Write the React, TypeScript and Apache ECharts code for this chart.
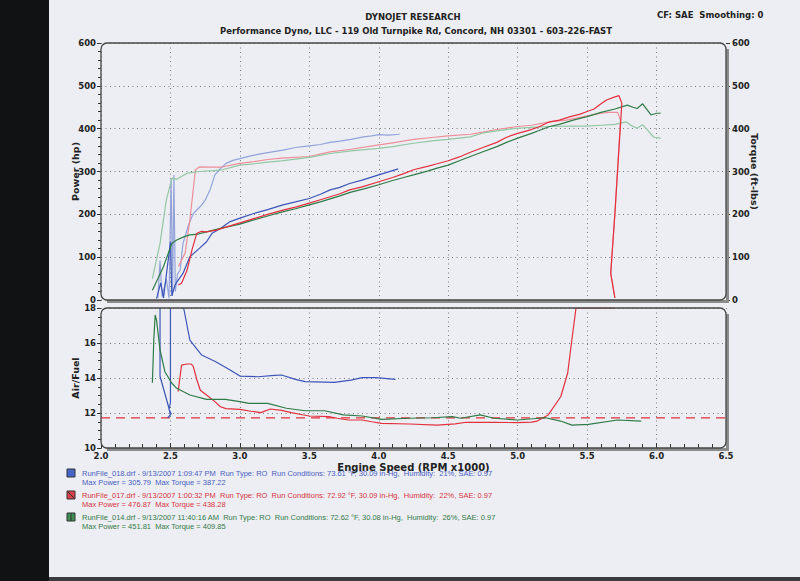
import React, { useEffect, useRef } from "react";
import * as echarts from "echarts";

// ---------- data (rpm x1000, value) ----------
const rpmTicks = [2.0, 2.5, 3.0, 3.5, 4.0, 4.5, 5.0, 5.5, 6.0, 6.5];

// RunFile_018 (blue)
const run018Power: [number, number][] = [
  [2.4, 3], [2.43, 40], [2.45, 5], [2.5, 135], [2.51, 10], [2.533, 35], [2.557, 47], [2.59, 62],
  [2.64, 101], [2.71, 121], [2.76, 136], [2.8, 156], [2.86, 167], [2.93, 183], [3.0, 191],
  [3.1, 202], [3.2, 211], [3.31, 222], [3.4, 229], [3.5, 237], [3.58, 247], [3.65, 257],
  [3.72, 263], [3.79, 272], [3.88, 280], [4.0, 292], [4.07, 299], [4.14, 306],
];
const run018Torque: [number, number][] = [
  [2.41, 5], [2.425, 92], [2.44, 8], [2.47, 50], [2.49, 4], [2.505, 285], [2.515, 10],
  [2.525, 292], [2.535, 20], [2.55, 60], [2.57, 70], [2.59, 132], [2.63, 175], [2.665, 202],
  [2.72, 220], [2.75, 233], [2.785, 257], [2.82, 292], [2.86, 307], [2.9, 319], [2.95, 326],
  [3.0, 330], [3.07, 336], [3.15, 341], [3.2, 344], [3.31, 350], [3.4, 356], [3.5, 360],
  [3.58, 363], [3.65, 368], [3.72, 371], [3.8, 375], [3.89, 381], [3.95, 383], [4.0, 386],
  [4.07, 385], [4.15, 387],
];
// RunFile_017 (red)
const run017Power: [number, number][] = [
  [2.557, 35], [2.58, 39], [2.62, 70], [2.655, 117], [2.69, 156], [2.72, 160], [2.76, 159],
  [2.83, 163], [2.9, 170], [3.0, 180], [3.1, 190], [3.2, 200], [3.31, 210], [3.4, 217],
  [3.5, 226], [3.58, 234], [3.65, 241], [3.72, 248], [3.79, 257], [3.88, 264], [4.0, 276],
  [4.1, 286], [4.18, 295], [4.25, 304], [4.35, 312], [4.42, 318], [4.5, 325], [4.58, 334],
  [4.66, 345], [4.75, 356], [4.85, 368], [4.92, 380], [5.0, 389], [5.08, 396], [5.15, 404],
  [5.23, 416], [5.3, 420], [5.38, 428], [5.45, 434], [5.5, 440], [5.55, 446], [5.6, 458],
  [5.64, 467], [5.69, 473], [5.73, 477], [5.75, 459], [5.7, 202], [5.67, 62], [5.7, 5],
];
const run017Torque: [number, number][] = [
  [2.557, 78], [2.605, 109], [2.64, 187], [2.68, 304], [2.71, 311], [2.78, 310], [2.86, 310],
  [3.0, 319], [3.1, 323], [3.2, 328], [3.3, 331], [3.5, 335], [3.65, 346], [3.8, 352],
  [4.0, 362], [4.1, 367], [4.25, 375], [4.4, 380], [4.5, 383], [4.66, 387], [4.75, 392],
  [4.85, 398], [5.0, 405], [5.1, 408], [5.23, 416], [5.35, 420], [5.5, 430], [5.6, 436],
  [5.66, 438], [5.72, 438], [5.74, 420], [5.7, 200], [5.67, 62], [5.7, 5],
];
// RunFile_014 (green)
const run014Power: [number, number][] = [
  [2.37, 23], [2.41, 50], [2.45, 78], [2.51, 132], [2.545, 140], [2.6, 148], [2.64, 152],
  [2.7, 154], [2.76, 159], [2.83, 165], [2.9, 170], [3.0, 177], [3.1, 187], [3.2, 196],
  [3.3, 205], [3.4, 213], [3.5, 222], [3.58, 229], [3.65, 236], [3.72, 243], [3.8, 252],
  [3.9, 260], [4.0, 269], [4.1, 279], [4.18, 286], [4.25, 292], [4.35, 301], [4.42, 308],
  [4.5, 315], [4.58, 325], [4.66, 335], [4.75, 346], [4.85, 358], [4.92, 368], [5.0, 378],
  [5.1, 389], [5.15, 395], [5.23, 405], [5.3, 410], [5.4, 420], [5.5, 428], [5.6, 438],
  [5.7, 446], [5.79, 455], [5.83, 450], [5.86, 447], [5.9, 458], [5.93, 445], [5.96, 432],
  [6.0, 436], [6.03, 436],
];
const run014Torque: [number, number][] = [
  [2.37, 50], [2.425, 132], [2.47, 233], [2.51, 284], [2.545, 282], [2.62, 296], [2.71, 300],
  [2.86, 303], [3.0, 315], [3.1, 318], [3.2, 322], [3.3, 325], [3.5, 333], [3.65, 342],
  [3.8, 348], [4.0, 354], [4.1, 358], [4.25, 366], [4.4, 372], [4.5, 375], [4.66, 381],
  [4.75, 390], [4.85, 395], [5.0, 401], [5.1, 403], [5.23, 405], [5.35, 406], [5.5, 406],
  [5.6, 408], [5.7, 410], [5.78, 416], [5.82, 407], [5.86, 401], [5.9, 409], [5.94, 395],
  [5.98, 380], [6.03, 378],
];

// Air / Fuel
const run018AfStart: [number, number][] = [
  [2.425, 18], [2.425, 14.1], [2.485, 12.4], [2.5, 11.9], [2.48, 11.72], [2.505, 11.95],
  [2.49, 12.2], [2.5, 12.6], [2.5, 18],
];
const run018Af: [number, number][] = [
  [2.595, 18], [2.64, 16.17], [2.725, 15.31], [2.826, 14.93], [2.93, 14.46], [3.0, 14.11],
  [3.13, 14.07], [3.25, 14.15], [3.3, 14.17], [3.4, 13.92], [3.47, 13.79], [3.68, 13.75],
  [3.8, 13.88], [3.88, 14.02], [3.98, 14.02], [4.12, 13.92],
];
const run017Af: [number, number][] = [
  [2.555, 13.22], [2.58, 14.74], [2.62, 14.8], [2.65, 14.8], [2.665, 14.65], [2.69, 13.9],
  [2.715, 13.3], [2.76, 13.03], [2.82, 12.65], [2.86, 12.36], [2.9, 12.25], [3.0, 12.21],
  [3.08, 12.1], [3.15, 12.02], [3.22, 12.23], [3.3, 12.15], [3.37, 12.02], [3.45, 11.9],
  [3.5, 11.83], [3.64, 11.79], [3.7, 11.7], [3.78, 11.6], [3.88, 11.6], [3.95, 11.5],
  [4.02, 11.41], [4.22, 11.37], [4.42, 11.31], [4.55, 11.38], [4.63, 11.47], [4.83, 11.47],
  [5.0, 11.45], [5.1, 11.48], [5.14, 11.54], [5.22, 11.89], [5.31, 12.93], [5.36, 14.27],
  [5.39, 16.17], [5.42, 18], [5.7, 18],
];
const run014Af: [number, number][] = [
  [2.37, 13.73], [2.38, 16.17], [2.39, 17.6], [2.4, 17.31], [2.425, 15.6], [2.46, 14.36],
  [2.51, 13.7], [2.545, 13.41], [2.64, 13.03], [2.76, 12.78], [2.895, 12.78], [3.0, 12.65],
  [3.065, 12.55], [3.2, 12.55], [3.335, 12.27], [3.47, 12.13], [3.61, 12.13], [3.745, 11.89],
  [3.88, 11.83], [4.02, 11.64], [4.22, 11.7], [4.39, 11.73], [4.53, 11.79], [4.59, 11.7],
  [4.73, 11.89], [4.83, 11.7], [5.0, 11.6], [5.2, 11.73], [5.31, 11.54], [5.39, 11.31],
  [5.51, 11.35], [5.72, 11.6], [5.89, 11.54],
];
const targetAf: [number, number][] = [[2.0, 11.72], [6.5, 11.72]];

const legendLines = [
  "RunFile_018.drf - 9/13/2007 1:09:47 PM  Run Type: RO  Run Conditions: 73.61 °F, 30.09 in-Hg,  Humidity:  21%, SAE: 0.97",
  "Max Power = 305.79  Max Torque = 387.22",
  "RunFile_017.drf - 9/13/2007 1:00:32 PM  Run Type: RO  Run Conditions: 72.92 °F, 30.09 in-Hg,  Humidity:  22%, SAE: 0.97",
  "Max Power = 476.87  Max Torque = 438.28",
  "RunFile_014.drf - 9/13/2007 11:40:16 AM  Run Type: RO  Run Conditions: 72.62 °F, 30.08 in-Hg,  Humidity:  26%, SAE: 0.97",
  "Max Power = 451.81  Max Torque = 409.85",
];

// ---------- style ----------
const BLUE = "#3d55b8";
const BLUE_L = "#93a3da";
const RED = "#e2303c";
const RED_L = "#ee8e98";
const GREEN = "#2f7b47";
const GREEN_L = "#93c7a4";
const BLUE_T = "#4a60c2";
const RED_T = "#d8343f";
const GREEN_T = "#347a47";
const PAPER = "#eceef3";
const FONT = "DejaVu Sans";
const LFONT = "Liberation Sans";

const G1 = { left: 101, top: 43, width: 625, height: 257 };
const G2 = { left: 101, top: 308, width: 625, height: 140 };

const dotted = { show: true, lineStyle: { color: "#7a7a7a", width: 1, type: [1, 3.5] as number[] } };
const lbl = { color: "#222", fontFamily: FONT, fontWeight: "bold" as const, fontSize: 8.5 };
const nameStyle = { color: "#222", fontFamily: FONT, fontWeight: "bold" as const, fontSize: 9.5 };

function line(name: string, data: [number, number][], color: string, xi: number, yi: number, extra: any = {}) {
  return {
    name,
    type: "line",
    xAxisIndex: xi,
    yAxisIndex: yi,
    data,
    showSymbol: false,
    symbol: "none",
    clip: true,
    lineStyle: { color, width: 1.2, ...(extra.lineStyle || {}) },
    z: extra.z ?? 2,
  };
}

function frame(g: { left: number; top: number; width: number; height: number }) {
  const x0 = g.left, y0 = g.top, x1 = g.left + g.width, y1 = g.top + g.height;
  return [
    {
      type: "polyline",
      shape: { points: [[x1 + 1.5, y0 + 6], [x1 + 1.5, y1 + 1.5], [x0 + 6, y1 + 1.5]] },
      style: { stroke: "#8c8c8c", lineWidth: 3, fill: null },
      z: 9,
    },
    {
      type: "rect",
      shape: { x: x0, y: y0, width: g.width, height: g.height, r: 6 },
      style: { stroke: "#474747", lineWidth: 1.3, fill: null },
      z: 10,
    },
  ];
}

const legendColors = [BLUE_T, BLUE_T, RED_T, RED_T, GREEN_T, GREEN_T];
const legendY = [473, 482, 495, 504, 517, 526];

const option: any = {
  animation: false,
  backgroundColor: PAPER,
  grid: [
    { ...G1, containLabel: false },
    { ...G2, containLabel: false },
  ],
  xAxis: [
    {
      gridIndex: 0, type: "value", min: 2, max: 6.5, interval: 0.5,
      axisLine: { show: false }, axisTick: { show: false }, axisLabel: { show: false },
      splitLine: dotted,
    },
    {
      gridIndex: 1, type: "value", min: 2, max: 6.5, interval: 0.5,
      axisLine: { show: false },
      axisTick: { show: true, inside: true, length: 5, lineStyle: { color: "#333" } },
      minorTick: { show: true, splitNumber: 5, length: 4, lineStyle: { color: "#333" } },
      axisLabel: { ...lbl, margin: 3, formatter: (v: number) => v.toFixed(1) },
      splitLine: dotted,
      name: "Engine Speed (RPM x1000)",
      nameLocation: "middle",
      nameGap: 14,
      nameMoveOverlap: false,
      nameTextStyle: { ...nameStyle, fontSize: 10 },
    },
  ],
  yAxis: [
    {
      gridIndex: 0, type: "value", position: "left", min: 0, max: 600, interval: 100,
      axisLine: { show: false },
      axisTick: { show: true, length: 4, lineStyle: { color: "#333" } },
      minorTick: { show: true, splitNumber: 5, length: 3, lineStyle: { color: "#333" } },
      axisLabel: { ...lbl, margin: 5 },
      splitLine: dotted,
      name: "Power (hp)", nameLocation: "middle", nameGap: 21, nameRotate: 90,
      nameMoveOverlap: false,
      nameTextStyle: nameStyle,
    },
    {
      gridIndex: 0, type: "value", position: "right", min: 0, max: 600, interval: 100,
      axisLine: { show: false },
      axisTick: { show: true, length: 4, lineStyle: { color: "#333" } },
      minorTick: { show: true, splitNumber: 5, length: 3, lineStyle: { color: "#333" } },
      axisLabel: { ...lbl, margin: 6 },
      splitLine: { show: false },
      name: "Torque (ft-lbs)", nameLocation: "middle", nameGap: 23, nameRotate: -90,
      nameMoveOverlap: false,
      nameTextStyle: nameStyle,
    },
    {
      gridIndex: 1, type: "value", position: "left", min: 10, max: 18, interval: 2,
      axisLine: { show: false },
      axisTick: { show: true, length: 4, lineStyle: { color: "#333" } },
      minorTick: { show: true, splitNumber: 4, length: 3, lineStyle: { color: "#333" } },
      axisLabel: { ...lbl, margin: 5 },
      splitLine: dotted,
      name: "Air/Fuel", nameLocation: "middle", nameGap: 21, nameRotate: 90,
      nameMoveOverlap: false,
      nameTextStyle: nameStyle,
    },
  ],
  series: [
    line("018 Torque", run018Torque, BLUE_L, 0, 1),
    line("017 Torque", run017Torque, RED_L, 0, 1),
    line("014 Torque", run014Torque, GREEN_L, 0, 1),
    line("018 Power", run018Power, BLUE, 0, 0, { z: 3 }),
    line("014 Power", run014Power, GREEN, 0, 0, { z: 3 }),
    line("017 Power", run017Power, RED, 0, 0, { z: 3 }),
    line("Target A/F", targetAf, RED, 1, 2, { lineStyle: { type: [9, 6], width: 1.4 } }),
    line("018 A/F start", run018AfStart, BLUE, 1, 2),
    line("018 A/F", run018Af, BLUE, 1, 2),
    line("017 A/F", run017Af, RED, 1, 2),
    line("014 A/F", run014Af, GREEN, 1, 2, { z: 3 }),
  ],
  graphic: [
    // scan borders
    { type: "rect", shape: { x: 0, y: 0, width: 49, height: 581 }, style: { fill: "#111214" }, z: 0 },
    { type: "rect", shape: { x: 49, y: 577, width: 751, height: 4 }, style: { fill: "#3a3b3e" }, z: 0 },
    // plot frames
    ...frame(G1),
    ...frame(G2),
    // titles
    {
      type: "text", x: 413, y: 17, z: 20,
      style: { text: "DYNOJET RESEARCH", fill: "#222", font: `bold 8.5px "${FONT}"`, align: "center", verticalAlign: "middle" },
    },
    {
      type: "text", x: 416, y: 31, z: 20,
      style: {
        text: "Performance Dyno, LLC - 119 Old Turnpike Rd, Concord, NH 03301 - 603-226-FAST",
        fill: "#222", font: `bold 8.5px "${FONT}"`, align: "center", verticalAlign: "middle",
      },
    },
    {
      type: "text", x: 657, y: 15, z: 20,
      style: { text: "CF: SAE  Smoothing: 0", fill: "#222", font: `bold 8.5px "${FONT}"`, align: "left", verticalAlign: "middle" },
    },
    // legend swatches
    { type: "rect", shape: { x: 67, y: 469, width: 8, height: 8 }, style: { fill: "#4565c8", stroke: "#333", lineWidth: 1 }, z: 20 },
    { type: "rect", shape: { x: 67, y: 491, width: 8, height: 8 }, style: { fill: "#d8404a", stroke: "#333", lineWidth: 1 }, z: 20 },
    { type: "line", shape: { x1: 68, y1: 492, x2: 74, y2: 498 }, style: { stroke: "#333", lineWidth: 1 }, z: 21 },
    { type: "rect", shape: { x: 67, y: 513, width: 8, height: 8 }, style: { fill: "#3f8f55", stroke: "#333", lineWidth: 1 }, z: 20 },
    { type: "line", shape: { x1: 71, y1: 513, x2: 71, y2: 521 }, style: { stroke: "#333", lineWidth: 1 }, z: 21 },
    // legend texts
    ...legendLines.map((t, i) => ({
      type: "text", x: 82, y: legendY[i], z: 20,
      style: { text: t, fill: legendColors[i], font: `7.5px "${LFONT}"`, align: "left", verticalAlign: "middle" },
    })),
  ],
};

export default function App() {
  const ref = useRef<HTMLDivElement>(null);
  useEffect(() => {
    if (!ref.current) return;
    const chart = echarts.init(ref.current, null, { renderer: "svg" });
    chart.setOption(option);
    return () => chart.dispose();
  }, []);
  return <div ref={ref} style={{ position: "fixed", left: 0, top: 0, width: 800, height: 581 }} />;
}
